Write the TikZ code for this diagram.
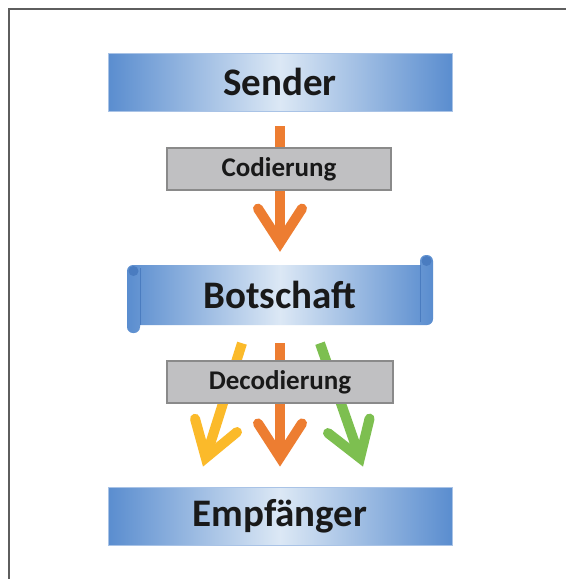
\documentclass[tikz,border=0pt]{standalone}
\usepackage{fontspec}
\setmainfont{Carlito}
\usetikzlibrary{arrows.meta,calc}
\definecolor{blueedge}{HTML}{5A8DCF}
\definecolor{bluemid}{HTML}{DCE8F5}
\definecolor{blueline}{HTML}{A9C3E6}
\definecolor{curlcol}{HTML}{4A7CC0}
\definecolor{grayfill}{HTML}{C0C0C2}
\definecolor{grayline}{HTML}{8A8A8A}
\definecolor{arrorange}{HTML}{ED7D31}
\definecolor{arryellow}{HTML}{FBBA2A}
\definecolor{arrgreen}{HTML}{7DBF50}
\definecolor{framecol}{HTML}{5E5E5E}
\begin{document}
\begin{tikzpicture}[x=1pt,y=-1pt,
  blueshade/.style={left color=blueedge, right color=blueedge, middle color=bluemid},
  bluebox/.style={draw=blueline, line width=0.8pt, blueshade,
    minimum width=344pt, minimum height=58pt, inner sep=0pt, font=\fontsize{39}{39}\selectfont\bfseries, text=black!90},
  graybox/.style={draw=grayline, line width=1.2pt, fill=grayfill, minimum width=224pt, minimum height=42pt,
    inner sep=0pt, font=\fontsize{27}{27}\selectfont\bfseries, text=black!90},
  scrolltext/.style={minimum width=292pt, minimum height=60pt, inner sep=0pt, font=\fontsize{39}{39}\selectfont\bfseries, text=black!90},
  flow/.style={line width=10pt, -{Straight Barb[length=34pt, width=44pt, line join=miter, line cap=round]}},
]
\useasboundingbox (0,0) rectangle (566,579);
\fill[white] (0,0) rectangle (566,579);
\draw[framecol, line width=1.8pt] (9,579) -- (9,9) -- (566,9);

% sender and receiver
\node[bluebox] (sender) at (280,82) {Sender};
\node[bluebox] (empf) at (280,516) {Empfänger};

% scroll
\path[blueshade]
  (134,265) rectangle (426,325)
  {[rounded corners=6pt] (127,265) rectangle (140,333) (420,255) rectangle (433,325)};
\draw[curlcol, line width=0.6pt] (140,268) -- (140,325);
\draw[curlcol, line width=0.6pt] (420,265) -- (420,322);
\fill[curlcol] (133.5,271) circle (5pt);
\fill[curlcol] (426.5,261) circle (5pt);
\node[scrolltext] (botschaft) at (280,295) {Botschaft};

% arrows
\draw[flow, draw=arrorange] ($(sender.south)+(0,15)$) -- ($(botschaft.north)+(0,-13)$);
\draw[flow, draw=arryellow] ($(botschaft.south)+(-38,18)$) -- ($(empf.north)+(-77,-20)$);
\draw[flow, draw=arrorange] ($(botschaft.south)+(0,18)$) -- ($(empf.north)+(0,-20)$);
\draw[flow, draw=arrgreen] ($(botschaft.south)+(40,18)$) -- ($(empf.north)+(83,-20)$);

% coding boxes
\node[graybox] (cod) at (279,169) {Codierung};
\node[graybox, minimum width=226pt] (decod) at (280,382) {Decodierung};
\end{tikzpicture}
\end{document}
